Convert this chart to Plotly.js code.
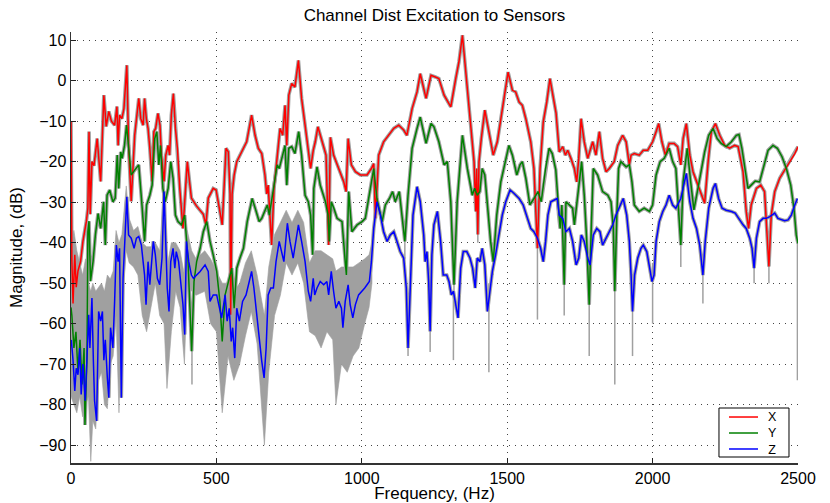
<!DOCTYPE html>
<html><head><meta charset="utf-8">
<script src="https://cdn.plot.ly/plotly-3.0.1.min.js"></script>
<style>html,body{margin:0;padding:0;background:#fff}#chart{width:830px;height:503px}</style>
</head><body><div id="chart"></div>
<script>
// ---- Channel X (red) ----
const xFreq = [0,3,7,13,18,24,33,41,53,58,62,66,72,79,90,102,113,121,130,139,150,158,162,167,175,182,192,198,207,219,233,240,248,253,259,265,271,279,285,291,299,306,311,320,326,334,339,345,352,359,366,374,385,393,400,405,414,432,455,464,472,489,499,510,520,533,541,547,549,554,561,570,587,604,621,633,644,656,667,673,678,684,690,698,709,719,728,736,742,749,759,770,782,793,805,816,824,833,840,849,863,877,886,892,903,921,938,946,953,964,978,995,1018,1033,1041,1047,1058,1075,1092,1110,1127,1144,1155,1173,1190,1201,1221,1238,1253,1265,1283,1306,1323,1334,1346,1357,1375,1386,1392,1395,1399,1403,1411,1423,1437,1452,1466,1483,1503,1518,1529,1541,1552,1564,1581,1592,1598,1604,1613,1624,1636,1647,1659,1668,1679,1691,1700,1708,1719,1731,1739,1746,1754,1765,1777,1794,1805,1817,1828,1840,1851,1868,1880,1897,1909,1920,1926,1937,1954,1968,1983,2000,2012,2021,2032,2044,2057,2074,2086,2097,2105,2116,2128,2139,2156,2168,2179,2191,2202,2216,2231,2248,2265,2282,2294,2311,2322,2330,2339,2357,2372,2385,2393,2400,2408,2420,2437,2454,2471,2489,2500];
const xMag = [-10.1,-44.6,-55,-43,-51,-47,-44.6,-39.7,-34.7,-31.5,-12.6,-33,-20,-21,-14.3,-24.9,-3.6,-11.3,-7.6,-10,-11,-6.4,-16,-8.5,-9.4,-6.9,3.8,-16,-29.8,-13.5,-4.4,-9.4,-11,-4.4,-9.4,-11.8,-16.7,-24.9,-12.6,-11.8,-8.1,-11,-18.4,-24.9,-18.4,-16,-18.4,-8.5,-3.2,-11.8,-16.7,-26.6,-36.5,-26.6,-20,-23.3,-29,-31,-33,-35.6,-29,-26.6,-27,-31.5,-35.6,-16.7,-17.6,-28,-57.8,-28,-23.3,-20,-17.6,-15.1,-8.5,-13.5,-16.7,-18,-23.3,-28,-25.8,-33,-40.6,-26.6,-19.2,-11.8,-13.5,-6.1,-16,-3.6,-0.7,-1.6,5,-4.4,-11,-16.7,-21.7,-17.2,-15.1,-11.4,-15.1,-18.4,-40.6,-14,-18.4,-21.7,-25,-27.4,-14.3,-20.8,-22.5,-23.3,-23.3,-21.7,-20.5,-34,-18.4,-15.1,-13.5,-11.8,-11,-12.2,-13.5,-6.9,-2.8,1.7,-4.4,1.3,0.9,0.5,-3.6,-6.5,0.5,4.6,11.2,3,-10.2,-20,-32.3,-21.7,-38,-20,-14.3,-7.3,-12.6,-18.4,-15.1,-6.9,2.1,-2.4,-2.8,-5.3,-6.1,-9.4,-15.1,-21.7,-29.9,-41.4,-21.7,-10.2,-5.3,0.5,-4.4,-8,-17.6,-16.3,-18.4,-17.2,-19.2,-21.7,-25,-19.2,-9.4,-15.1,-19.2,-15.1,-18.4,-12.6,-19.2,-22.5,-21.7,-20,-16,-13.5,-15.1,-20.8,-18.4,-18,-18.4,-17.2,-17.2,-15.1,-12.6,-10.6,-15.1,-18.4,-15.5,-15.5,-16.3,-20.8,-14.3,-10.6,-18.4,-22.5,-25.8,-28.3,-30.3,-20,-12.6,-10.6,-13.5,-16,-16.7,-16,-16.3,-22.5,-32.3,-36.5,-30.7,-26.6,-25.8,-27.4,-36.5,-45.9,-33.2,-27.4,-24.1,-22.1,-20,-18,-16.3];

// ---- Channel Y (green) ----
const yFreq = [0,3,10,17,24,31,38,45,48,55,58,62,67,76,84,93,102,112,118,124,133,144,152,159,164,171,176,184,191,198,207,219,233,244,253,260,271,279,288,295,302,308,316,324,334,343,351,359,368,380,391,402,415,423,432,444,455,467,478,489,501,512,520,530,541,553,561,570,581,593,606,623,635,647,656,667,675,682,690,702,709,716,725,736,742,749,759,770,783,793,805,816,824,831,835,846,857,875,884,888,895,904,915,932,943,947,955,966,984,1001,1012,1024,1035,1041,1052,1070,1081,1095,1106,1115,1129,1138,1148,1159,1173,1190,1201,1221,1238,1248,1265,1283,1294,1306,1317,1328,1346,1363,1380,1388,1397,1406,1414,1423,1434,1443,1452,1464,1478,1495,1506,1518,1533,1544,1552,1564,1578,1592,1606,1617,1632,1644,1655,1667,1677,1682,1688,1696,1702,1714,1725,1731,1739,1748,1756,1765,1773,1782,1789,1796,1811,1828,1846,1857,1865,1870,1877,1883,1891,1909,1920,1929,1937,1954,1971,1989,2000,2012,2026,2040,2057,2069,2080,2097,2105,2119,2131,2142,2156,2168,2179,2193,2208,2222,2236,2253,2271,2288,2297,2307,2317,2328,2339,2353,2368,2383,2397,2414,2429,2445,2460,2475,2486,2494,2500];
const yMag = [-56,-58,-66,-62,-72,-64,-75,-66,-85,-68,-37.3,-34.7,-49.5,-44.6,-38,-32.8,-36.5,-29.9,-40.6,-28.3,-27,-29.9,-29,-18.4,-26.6,-17.6,-19.2,-16,-11,-16,-23.3,-22.1,-20.8,-30.7,-39.7,-30.7,-28.3,-25.8,-14.3,-12.6,-20.8,-16,-26.6,-29.9,-26.6,-20,-24.1,-33.2,-34.8,-35.6,-33.2,-43.8,-66.8,-49.6,-44.7,-41.4,-37.3,-34.8,-39.7,-43,-47.1,-54.5,-64.4,-52.9,-49.6,-46.3,-56.2,-46.3,-43.8,-41.4,-34.8,-29.1,-31.9,-34.8,-34,-31.9,-30.7,-33.2,-29.1,-24.1,-20.8,-21.7,-19.2,-16,-25.8,-16.7,-16.3,-18,-12.6,-18.4,-28.3,-29.9,-33.2,-43,-26.6,-21.3,-25.8,-29.9,-33.2,-39.7,-29.9,-31.5,-34,-34.8,-44.7,-48,-27.4,-37.3,-35.6,-34.8,-34,-29.1,-24.1,-21.7,-29.1,-34.8,-30.7,-29.1,-27.4,-29.9,-27.4,-33.2,-39.7,-28.3,-16.7,-11.8,-9,-15.5,-10.6,-11.4,-15.1,-20.8,-20,-29.9,-50.4,-29.9,-13.5,-21.7,-28.3,-26.6,-28.3,-27.4,-21.7,-23.3,-33.2,-39.7,-44.7,-33.2,-25,-20,-16,-18.4,-23.3,-20.8,-20,-24.1,-30.7,-29.1,-27.4,-29.9,-21.7,-16.7,-18,-22,-33.2,-36.5,-30.7,-50.4,-29.9,-30.7,-31.5,-35.6,-29.9,-25,-20,-28.3,-38.9,-55.3,-36.5,-21.7,-23.3,-27.4,-28.3,-29.9,-36.5,-52,-33.2,-21.7,-20,-21.3,-20.8,-25,-30.7,-32.3,-31.5,-32.3,-30.7,-23.3,-20,-19.2,-16.7,-20,-21.7,-40.6,-25,-16.7,-25,-31.9,-26.6,-21.7,-17.6,-13.5,-11.8,-14.3,-15.5,-16.3,-15.1,-13.5,-13.3,-16.7,-21.7,-26.6,-25.8,-24.8,-25,-20.8,-17.2,-16,-16.7,-18.8,-21.7,-25.8,-31.5,-38.1,-40.2];

// ---- Channel Z (blue) ----
const zFreq = [1,7,13,18,24,30,35,41,49,56,61,65,72,77,81,88,95,102,108,113,118,125,130,136,144,150,156,162,167,173,179,185,192,198,207,217,225,233,242,248,253,258,265,271,276,283,290,297,305,313,320,324,331,337,343,351,357,362,370,377,385,391,397,405,414,421,432,444,461,472,478,489,501,510,518,530,537,544,551,556,563,570,579,590,602,613,621,629,639,648,656,664,671,678,687,696,705,716,725,732,744,753,764,774,782,793,805,816,824,833,838,846,857,869,880,886,895,903,911,921,930,935,943,953,960,969,978,989,1001,1010,1018,1026,1033,1041,1052,1064,1075,1087,1098,1110,1121,1132,1144,1153,1159,1167,1176,1190,1201,1213,1218,1224,1230,1235,1241,1248,1260,1271,1280,1292,1300,1308,1315,1323,1331,1340,1349,1361,1372,1381,1390,1397,1406,1414,1423,1432,1441,1449,1460,1472,1483,1495,1510,1523,1541,1555,1569,1581,1592,1604,1615,1624,1632,1640,1650,1661,1672,1679,1691,1702,1714,1725,1737,1746,1755,1765,1777,1785,1796,1808,1819,1828,1840,1851,1863,1874,1888,1899,1911,1920,1926,1931,1938,1949,1960,1968,1980,1991,1998,2005,2012,2023,2035,2046,2057,2069,2080,2097,2105,2116,2128,2139,2151,2162,2173,2181,2193,2208,2216,2227,2239,2253,2271,2284,2296,2303,2311,2322,2334,2342,2349,2357,2368,2380,2391,2403,2420,2431,2443,2454,2466,2477,2489,2498];
const zMag = [-64,-69,-76.6,-71,-72.6,-66,-77.5,-70,-79,-63.5,-57.8,-66,-53.7,-69.3,-79,-84,-57,-59.4,-57,-69,-64,-73.4,-78.3,-61,-66,-54.5,-40.6,-44.7,-41.4,-78.3,-48.8,-39.7,-28.7,-38.1,-38.9,-41.4,-38.9,-38.5,-40.6,-44.7,-48,-55.3,-44.7,-50.4,-46.3,-39.7,-43,-48.8,-50.4,-43.8,-27.4,-36.5,-51.2,-57,-44.7,-41.4,-46.3,-42.2,-44.7,-49.6,-55.3,-62.7,-39.7,-44.7,-48,-48.8,-48,-47.1,-45.5,-47.1,-54.5,-52.9,-52.9,-56.2,-58.6,-52.9,-59.4,-56.2,-64.4,-61,-68.5,-56.2,-59.4,-54.5,-52.9,-49.6,-47.1,-51.2,-58.6,-63.5,-69.3,-73.4,-66,-52.9,-51.2,-51.2,-44.7,-39.7,-43,-44.7,-35.2,-39.7,-43.8,-38.9,-35.6,-39.7,-44.7,-52,-54.5,-48.8,-52.9,-51.2,-49.6,-50.4,-49.6,-52.9,-47.1,-52,-56.2,-54.5,-56.2,-61,-54.5,-50.4,-55.3,-58.6,-55.3,-52.9,-52,-51.2,-50.4,-49.6,-44.7,-36.5,-29.9,-33.2,-37.3,-39.7,-38.1,-37.3,-39.7,-42.2,-43.8,-51.2,-66,-49.6,-33.2,-26.2,-29.9,-38.1,-44.7,-42.2,-49.6,-61.9,-43,-35.6,-32.3,-39.7,-48,-48,-49.6,-52.9,-52,-55.3,-58.6,-46.3,-42.2,-42.2,-43.8,-46.3,-51.2,-43.8,-44.7,-41.4,-45.5,-57,-51.2,-47.1,-43,-37.3,-33.2,-29.9,-27,-27.8,-29.1,-30.7,-34,-36.5,-37.3,-38.9,-41.4,-44.7,-39.7,-33.2,-29.9,-29.5,-29.1,-33.2,-34,-37.3,-36.5,-39.7,-45.5,-43.8,-38.1,-39.7,-43.8,-45.5,-38.1,-36.5,-37.3,-40.6,-38.9,-37.3,-35.6,-33.2,-30.7,-29.1,-33.2,-39.7,-48,-57,-48,-43.8,-41.4,-40.6,-42.2,-46.3,-49.6,-48,-39.7,-34.8,-32.3,-30.7,-28.3,-30.7,-31.5,-29.1,-26.6,-22.9,-29.9,-34,-36.5,-40.6,-48,-39.7,-31.5,-26.6,-25.4,-29.1,-31.5,-32,-32.3,-32.7,-34,-34.8,-35.6,-36.5,-38.9,-41.4,-46.3,-38.9,-34.8,-34,-34,-33.6,-32.7,-34,-34.4,-34.6,-34.4,-33.2,-30.7,-29.1];

// ---- grey spread of the individual measurements around Z (noisy part) ----
const zBandF  = [0,10,20,30,40,50,60,68,75,85,95,105,115,125,135,145,155,165,175,190,200,215,230,245,260,275,290,305,320,330,345,360,375,390,400,415,430,460,480,500,520,540,560,580,600,620,640,665,680,700,720,740,760,780,800,820,840,860,880,900,911,930,950,970,990,1010,1025,1035];
const zBandHi = [-40,-37,-42,-45,-48,-44,-50,-52,-50,-52,-51,-50,-52,-48,-49,-47,-37,-40,-38,-26,-34,-37,-36,-40,-41,-41,-40,-42,-25,-46,-40,-40,-42,-48,-37,-42,-44,-42,-44,-47,-50,-50,-52,-50,-45,-42,-48,-58,-46,-38,-35,-32,-35,-32,-35,-45,-42,-42,-43,-44,-47,-46,-46,-46,-45,-44,-43,-40];
const zBandLo = [-78,-80,-82,-78,-83,-80,-78,-94,-84,-86,-74,-72,-80,-81,-70,-68,-58,-82,-55,-42,-45,-46,-48,-58,-62,-56,-50,-58,-60,-76,-62,-52,-56,-70,-50,-52,-53,-52,-60,-62,-82,-68,-74,-70,-63,-57,-65,-90,-72,-58,-53,-45,-48,-45,-50,-62,-63,-66,-62,-64,-80,-70,-72,-68,-66,-60,-56,-50];

// ---- isolated grey measurement spikes ----
const spikeF   = [416,547,1148,1159,1235,1315,1317,1399,1437,1452,1604,1696,1782,1870,1931,2000,2097,2173,2349,2400,2498];
const spikeTop = [-60,-30,-38,-55,-55,-52,-45,-30,-50,-40,-38,-45,-45,-45,-50,-45,-38,-45,-42,-42,-38];
const spikeBot = [-75,-60,-44,-68,-67,-69,-55,-40,-72,-48,-59,-58,-68,-75,-68,-60,-46,-55,-50,-50,-74];

const xTicks = [0,500,1000,1500,2000,2500];
const yTicks = [-90,-80,-70,-60,-50,-40,-30,-20,-10,0,10];
const seriesNames = ['X','Y','Z'];
const seriesColors = ['#ff0000','#008000','#0000ff'];

const GREY = '#a0a0a0';
const FONT = 'Liberation Sans, Arial, Helvetica, sans-serif';
const traces = [];

traces.push({
  x: zBandF.concat(zBandF.slice().reverse()),
  y: zBandHi.concat(zBandLo.slice().reverse()),
  mode:'lines', fill:'toself', fillcolor:GREY, line:{width:0.6,color:GREY},
  showlegend:false, hoverinfo:'skip'
});
const sx=[], sy=[];
spikeF.forEach((f,i)=>{ sx.push(f,f,null); sy.push(spikeTop[i],spikeBot[i],null); });
traces.push({x:sx,y:sy,mode:'lines',line:{color:GREY,width:1.5},showlegend:false,hoverinfo:'skip'});

const series = [[xFreq,xMag],[yFreq,yMag],[zFreq,zMag]];
series.forEach(([f,m])=>traces.push({x:f,y:m,mode:'lines',line:{color:GREY,width:3.6},showlegend:false,hoverinfo:'skip'}));
series.forEach(([f,m],i)=>traces.push({x:f,y:m,mode:'lines',name:seriesNames[i],showlegend:false,line:{color:seriesColors[i],width:1.5}}));

// legend box drawn MATLAB-style (compact rows) in paper coordinates
const legX0 = 0.8913, legX1 = 0.9876, legY0 = 0.0139, legY1 = 0.1276;
const legRowY = [0.1067, 0.0696, 0.0325];
const shapes = [{type:'rect', xref:'paper', yref:'paper', x0:legX0, x1:legX1, y0:legY0, y1:legY1,
  line:{color:'#000', width:1}, fillcolor:'#fff', layer:'above'}];
seriesNames.forEach((n,i)=>{
  shapes.push({type:'line', xref:'paper', yref:'paper', x0:0.9051, x1:0.9450, y0:legRowY[i], y1:legRowY[i],
    line:{color:seriesColors[i], width:1.5}, layer:'above'});
});
const annotations = [{xref:'paper', yref:'paper', x:0.9656, y:legRowY[1], text:seriesNames.join('<br>'),
  showarrow:false, xanchor:'center', yanchor:'middle', align:'center', font:{size:12.5,color:'#000'}}];

const axisCommon = {
  ticks:'inside', ticklen:5, tickcolor:'#222', tickwidth:1,
  showline:true, linecolor:'#333', linewidth:1.5, mirror:false,
  showgrid:true, gridcolor:'#444', gridwidth:1, griddash:'1px,5px',
  zeroline:false, automargin:false, tickfont:{size:16,color:'#000'}
};

const layout = {
  width:830, height:503,
  margin:{l:71,r:32,t:32,b:40},
  paper_bgcolor:'#fff', plot_bgcolor:'#fff',
  font:{family:FONT,color:'#000',size:15},
  title:{text:'Channel Dist Excitation to Sensors', font:{size:17,color:'#000'}, x:0.5, xref:'paper', y:0.97, yref:'container', yanchor:'middle'},
  xaxis:Object.assign({}, axisCommon, {range:[0,2500], tickvals:xTicks, ticktext:xTicks.map(String),
    title:{text:'Frequency, (Hz)', font:{size:17}, standoff:2}}),
  yaxis:Object.assign({}, axisCommon, {range:[-94.4,12], tickvals:yTicks,
    title:{text:'Magnitude, (dB)', font:{size:17}, standoff:12}}),
  showlegend:false,
  shapes:shapes,
  annotations:annotations
};

Plotly.newPlot('chart', traces, layout, {displayModeBar:false, staticPlot:true});
</script>
</body></html>
